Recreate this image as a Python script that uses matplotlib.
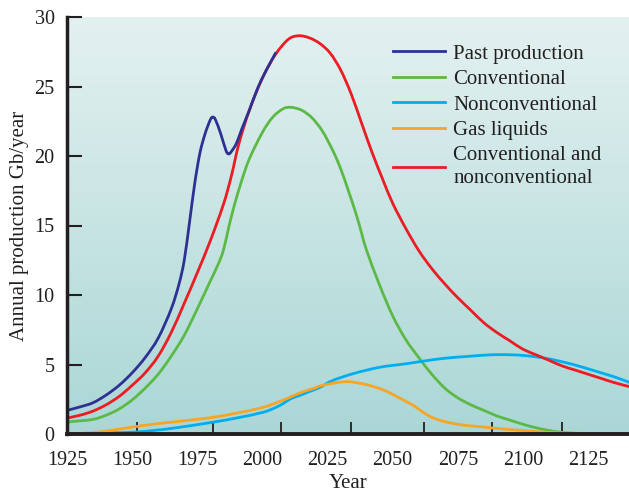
import numpy as np
import matplotlib
matplotlib.use("Agg")
import matplotlib.pyplot as plt
from matplotlib.path import Path
from matplotlib.patches import PathPatch
from matplotlib.lines import Line2D

plt.rcParams['font.family'] = ['Liberation Serif', 'DejaVu Serif']

# ---- data ----
past_years = [1925, 1930, 1935, 1940, 1945, 1950, 1955, 1960, 1965, 1968, 1970, 1972, 1974, 1976,
              1978, 1980, 1981, 1982, 1984, 1986, 1987, 1988, 1990, 1992, 1995, 1998, 2001, 2003, 2005]
past_vals = [1.7, 1.95, 2.25, 2.8, 3.5, 4.4, 5.5, 6.9, 9.0, 10.8, 12.5, 15.2, 18.0, 20.2,
             21.6, 22.6, 22.8, 22.6, 21.6, 20.4, 20.15, 20.3, 20.9, 21.9, 23.3, 24.8, 26.0, 26.7, 27.4]

conv_years = [1925, 1930, 1935, 1940, 1945, 1950, 1955, 1960, 1965, 1970, 1975, 1980, 1983, 1985,
              1987, 1989, 1992, 1995, 2000, 2004, 2008, 2011, 2015, 2019, 2023, 2027, 2030, 2033,
              2036, 2038, 2040, 2045, 2050, 2055, 2060, 2065, 2070, 2075, 2080, 2085, 2090, 2095,
              2100, 2105, 2110, 2115, 2120, 2130, 2141]
conv_vals = [0.86, 0.95, 1.05, 1.35, 1.8, 2.45, 3.3, 4.3, 5.6, 7.1, 9.0, 11.0, 12.2, 13.2,
             14.8, 16.3, 18.2, 19.8, 21.7, 22.8, 23.4, 23.5, 23.3, 22.75, 21.8, 20.4, 19.1, 17.5,
             15.8, 14.5, 13.2, 10.7, 8.5, 6.8, 5.5, 4.3, 3.3, 2.6, 2.1, 1.7, 1.3, 1.0,
             0.7, 0.45, 0.25, 0.12, 0.05, 0.0, 0.0]

nonconv_years = [1925, 1940, 1952, 1965, 1981, 1990, 2000, 2005, 2008, 2011, 2014, 2018, 2022, 2027,
                 2035, 2045, 2055, 2062, 2070, 2080, 2088, 2095, 2100, 2107, 2115, 2123, 2130, 2136, 2141]
nonconv_vals = [0.02, 0.08, 0.15, 0.4, 0.85, 1.15, 1.55, 1.9, 2.2, 2.55, 2.75, 3.05, 3.35, 3.85,
                4.35, 4.8, 5.05, 5.25, 5.45, 5.6, 5.7, 5.7, 5.65, 5.5, 5.2, 4.8, 4.4, 4.05, 3.7]

gas_years = [1925, 1935, 1945, 1952, 1960, 1970, 1981, 1990, 2000, 2006, 2010, 2015, 2020, 2022, 2027,
             2031, 2034, 2040, 2046, 2050, 2054, 2058, 2061, 2064, 2067, 2072, 2078, 2085, 2090, 2100,
             2110, 2120, 2130, 2141]
gas_vals = [0.0, 0.1, 0.35, 0.55, 0.75, 0.95, 1.2, 1.5, 1.9, 2.3, 2.6, 3.0, 3.3, 3.45, 3.65,
            3.75, 3.75, 3.55, 3.2, 2.85, 2.45, 2.05, 1.65, 1.3, 1.05, 0.8, 0.62, 0.5, 0.4, 0.25,
            0.12, 0.05, 0.02, 0.0]

total_years = [1925, 1930, 1935, 1940, 1945, 1950, 1955, 1960, 1965, 1970, 1975, 1980, 1985, 1988,
               1991, 1995, 2000, 2005, 2010, 2014, 2018, 2022, 2026, 2030, 2034, 2038, 2042, 2046,
               2050, 2055, 2060, 2065, 2070, 2075, 2080, 2085, 2090, 2095, 2100, 2105, 2110, 2115,
               2120, 2125, 2130, 2135, 2141]
total_vals = [1.15, 1.35, 1.65, 2.1, 2.7, 3.5, 4.4, 5.6, 7.3, 9.4, 11.6, 13.9, 16.5, 18.5,
              20.9, 23.3, 25.6, 27.3, 28.4, 28.65, 28.5, 28.1, 27.4, 26.2, 24.5, 22.4, 20.3, 18.4,
              16.6, 14.8, 13.2, 11.9, 10.8, 9.8, 8.9, 8.0, 7.3, 6.7, 6.1, 5.7, 5.3, 4.9,
              4.6, 4.3, 4.0, 3.7, 3.4]

x_ticks = [1925, 1950, 1975, 2000, 2025, 2050, 2075, 2100, 2125]
x_tick_labels = ['1925', '1950', '1975', '2000', '2025', '2050', '2075', '2100', '2125']
x_mark_years = [1952, 1981, 2007, 2034, 2062, 2088, 2115]   # tick marks as drawn (offset from labels)
y_ticks = [0, 5, 10, 15, 20, 25, 30]

labels = ['Past production', 'Conventional', 'Nonconventional', 'Gas liquids',
          'Conventional and\nnonconventional']
colors = ['#2e3192', '#5cb946', '#00aeef', '#f6a527', '#ec1c24']


def smooth_path(xs, ys):
    """Catmull-Rom curve through the data points, expressed as cubic Bezier segments."""
    p = np.column_stack([xs, ys]).astype(float)
    n = len(p)
    verts = [p[0]]
    codes = [Path.MOVETO]
    for i in range(n - 1):
        p0 = p[i - 1] if i > 0 else p[i]
        p1 = p[i]
        p2 = p[i + 1]
        p3 = p[i + 2] if i + 2 < n else p[i + 1]
        c1 = p1 + (p2 - p0) / 6.0
        c2 = p2 - (p3 - p1) / 6.0
        verts += [c1, c2, p2]
        codes += [Path.CURVE4] * 3
    return Path(verts, codes)


# ---- figure ----
fig = plt.figure(figsize=(6.29, 4.92), dpi=100)
ax = fig.add_axes([67/629, 1 - 434/492, 1 - 67/629, (434 - 17)/492])
xmin, xmax = 1925, 2140.7
ymin, ymax = 0, 30

# gradient background
grad = np.linspace(0, 1, 256).reshape(-1, 1)
top = np.array([227, 241, 240]) / 255.0
bot = np.array([170, 215, 214]) / 255.0
img = top[None, None, :] * (1 - grad[:, :, None]) + bot[None, None, :] * grad[:, :, None]
ax.imshow(img, extent=[xmin, xmax, ymin, ymax], aspect='auto', origin='upper', zorder=0)

lw = 2.0
series = [
    (conv_years, conv_vals, colors[1], 3),
    (nonconv_years, nonconv_vals, colors[2], 3),
    (gas_years, gas_vals, colors[3], 3),
    (total_years, total_vals, colors[4], 3),
    (past_years, past_vals, colors[0], 4),
]
for xs, ys, c, z in series:
    ax.add_patch(PathPatch(smooth_path(xs, ys), facecolor='none', edgecolor=c, lw=lw,
                           zorder=z, capstyle='round', joinstyle='round'))

ax.set_xlim(xmin, xmax)
ax.set_ylim(ymin, ymax)

ax.set_xticks(x_ticks)
ax.set_xticklabels(x_tick_labels)
ax.set_xticks(x_mark_years, minor=True)
ax.tick_params(axis='x', which='major', length=0, pad=12, labelsize=14.5, colors='#231f20')
ax.tick_params(axis='x', which='minor', direction='in', length=9, width=1.3, color='#231f20')
ax.set_yticks(y_ticks)
ax.tick_params(axis='y', which='major', direction='in', length=11, width=1.5, pad=9,
               labelsize=14.5, colors='#231f20')

for s in ['top', 'right']:
    ax.spines[s].set_visible(False)
for s in ['left', 'bottom']:
    ax.spines[s].set_color('#231f20')
    ax.spines[s].set_zorder(5)
ax.spines['left'].set_linewidth(2.5)
ax.spines['bottom'].set_linewidth(2.8)

ax.set_xlabel('Year', fontsize=15, color='#231f20', labelpad=3)
ax.set_ylabel('Annual production Gb/year', fontsize=15, color='#231f20', labelpad=4)

handles = [Line2D([], [], color=c, lw=lw) for c in colors]
leg = ax.legend(handles, labels, loc='upper left',
                bbox_to_anchor=(0.565, 0.955), frameon=False, fontsize=15,
                handlelength=2.5, handletextpad=0.4, labelspacing=0.28, borderaxespad=0)
for t in leg.get_texts():
    t.set_color('#231f20')
    t.set_linespacing(1.3)

fig.savefig('out.png', dpi=100)
